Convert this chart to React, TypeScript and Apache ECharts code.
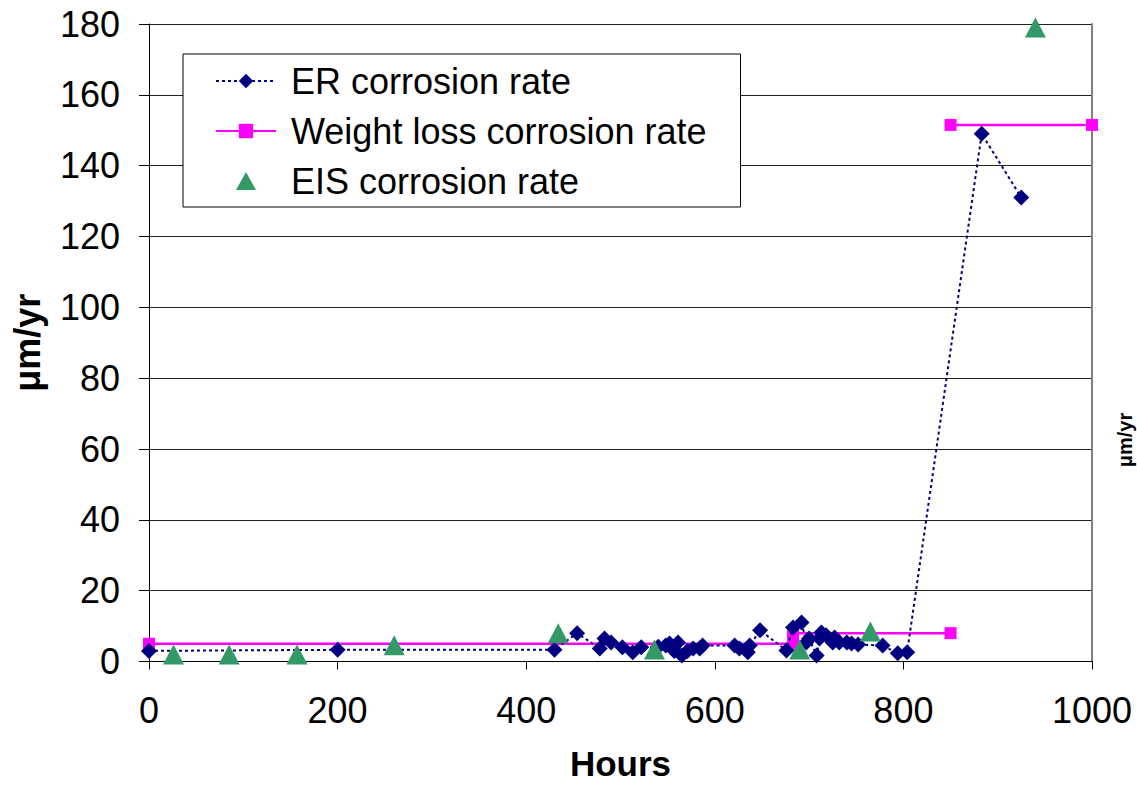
import React, { useEffect, useRef } from "react";
import * as echarts from "echarts";

const hoursTicks = [0, 200, 400, 600, 800, 1000];

const erData: [number, number][] = [
  [0, 3], [200, 3.3], [430, 3.3], [454, 8], [478, 3.7], [483, 6.5], [490, 5.4],
  [502, 4], [513, 2.6], [522, 4], [540, 4.2], [548, 4.5], [552, 5.1], [557, 3],
  [561, 5.4], [565, 1.7], [571, 3], [577, 3.7], [584, 3.7], [587, 4.5], [621, 4.5],
  [626, 3.7], [635, 2.6], [637, 4.5], [648, 8.8], [676, 3.1], [683, 9.6], [692, 11],
  [697, 5.4], [700, 6.5], [708, 1.7], [711, 6.5], [713, 8.2], [718, 7.4], [725, 5.4],
  [727, 6.8], [732, 5.4], [740, 5.4], [745, 5.1], [752, 4.8], [778, 4.5], [794, 2.3],
  [804, 2.6], [883, 149], [925, 131],
];

const weightLossLow: [number, number][] = [
  [0, 5], [683, 5], [683, 8], [850, 8],
];
const weightLossHigh: [number, number][] = [
  [850, 151.5], [1000, 151.5],
];

const eisData: [number, number][] = [
  [26, 2], [85, 2], [157, 2], [260, 4.6], [434, 8], [536, 3.4], [690, 3.4],
  [765, 8.5], [940, 179],
];

const FONT = "'Liberation Sans', Arial, sans-serif";
const FS = 36;

export default function App() {
  const ref = useRef<HTMLDivElement>(null);
  useEffect(() => {
    if (!ref.current) return;
    const chart = echarts.init(ref.current, undefined, { renderer: "svg" });
    chart.setOption({
      animation: false,
      backgroundColor: "#ffffff",
      textStyle: { fontFamily: FONT },
      grid: {
        left: 149,
        right: 45,
        top: 24,
        bottom: 127.5,
        containLabel: false,
        outerBoundsMode: "none",
      },
      legend: {
        orient: "vertical",
        left: 183,
        top: 54,
        backgroundColor: "#ffffff",
        borderColor: "#000000",
        borderWidth: 1,
        borderRadius: 0,
        padding: [9, 34, 8, 32],
        itemWidth: 60,
        itemHeight: 18,
        itemGap: 14,
        data: [
          { name: "ER corrosion rate" },
          { name: "Weight loss corrosion rate" },
          { name: "EIS corrosion rate", icon: "path://M10,0 L20,18 L0,18 Z" },
        ],
        textStyle: {
          fontSize: FS,
          color: "#000000",
          fontFamily: FONT,
          lineHeight: 36,
          padding: [0, 0, 0, 10],
        },
      },
      xAxis: {
        type: "value",
        min: 0,
        max: 1000,
        interval: 200,
        name: "Hours",
        nameLocation: "middle",
        nameGap: 86,
        nameTextStyle: {
          fontSize: 35,
          fontWeight: "bold",
          color: "#000",
          fontFamily: FONT,
          lineHeight: 32,
        },
        axisLine: { show: true, lineStyle: { color: "#000", width: 1 } },
        axisTick: { show: true, inside: false, length: 8, lineStyle: { color: "#000" } },
        axisLabel: {
          fontSize: FS,
          color: "#000",
          margin: 31,
          fontFamily: FONT,
          formatter: (v: number) => (hoursTicks.includes(v) ? String(v) : ""),
        },
        splitLine: { show: false },
      },
      yAxis: [
        {
          type: "value",
          min: 0,
          max: 180,
          interval: 20,
          name: "μm/yr",
          nameLocation: "middle",
          nameGap: 104,
          nameRotate: 90,
          nameTextStyle: { fontSize: FS, fontWeight: "bold", color: "#000", fontFamily: FONT },
          axisLine: { show: true, lineStyle: { color: "#000", width: 1 } },
          axisTick: { show: true, inside: false, length: 10, lineStyle: { color: "#000" } },
          axisLabel: { fontSize: FS, color: "#000", margin: 29, fontFamily: FONT },
          splitLine: { show: true, lineStyle: { color: "#222", width: 1 } },
        },
        {
          type: "value",
          min: 0,
          max: 180,
          interval: 20,
          position: "right",
          axisLine: { show: true, lineStyle: { color: "#808080", width: 2 } },
          axisTick: { show: false },
          axisLabel: { show: false },
          splitLine: { show: false },
        },
      ],
      graphic: [
        {
          type: "text",
          x: 1125,
          y: 440,
          rotation: Math.PI / 2,
          style: {
            text: "μm/yr",
            fontSize: 20,
            fontWeight: "bold",
            fontFamily: FONT,
            fill: "#000",
            textAlign: "center",
            textVerticalAlign: "middle",
          },
        },
      ],
      series: [
        {
          name: "Weight loss corrosion rate",
          type: "line",
          data: weightLossLow,
          symbol: "rect",
          symbolSize: 12,
          z: 2,
          itemStyle: { color: "#FF00FF" },
          lineStyle: { color: "#FF00FF", width: 2.5 },
        },
        {
          name: "Weight loss corrosion rate",
          type: "line",
          data: weightLossHigh,
          symbol: "rect",
          symbolSize: 12,
          z: 2,
          itemStyle: { color: "#FF00FF" },
          lineStyle: { color: "#FF00FF", width: 2.5 },
        },
        {
          name: "ER corrosion rate",
          type: "line",
          data: erData,
          symbol: "diamond",
          symbolSize: 16,
          z: 3,
          itemStyle: { color: "#000080" },
          lineStyle: { color: "#000080", width: 2, type: [3, 3] },
        },
        {
          name: "EIS corrosion rate",
          type: "scatter",
          data: eisData,
          symbol: "triangle",
          symbolSize: [21, 20],
          z: 4,
          itemStyle: { color: "#339966", opacity: 1 },
        },
      ],
    });
    return () => chart.dispose();
  }, []);
  return <div ref={ref} style={{ width: 1137, height: 789, position: "absolute", left: 0, top: 0 }} />;
}
